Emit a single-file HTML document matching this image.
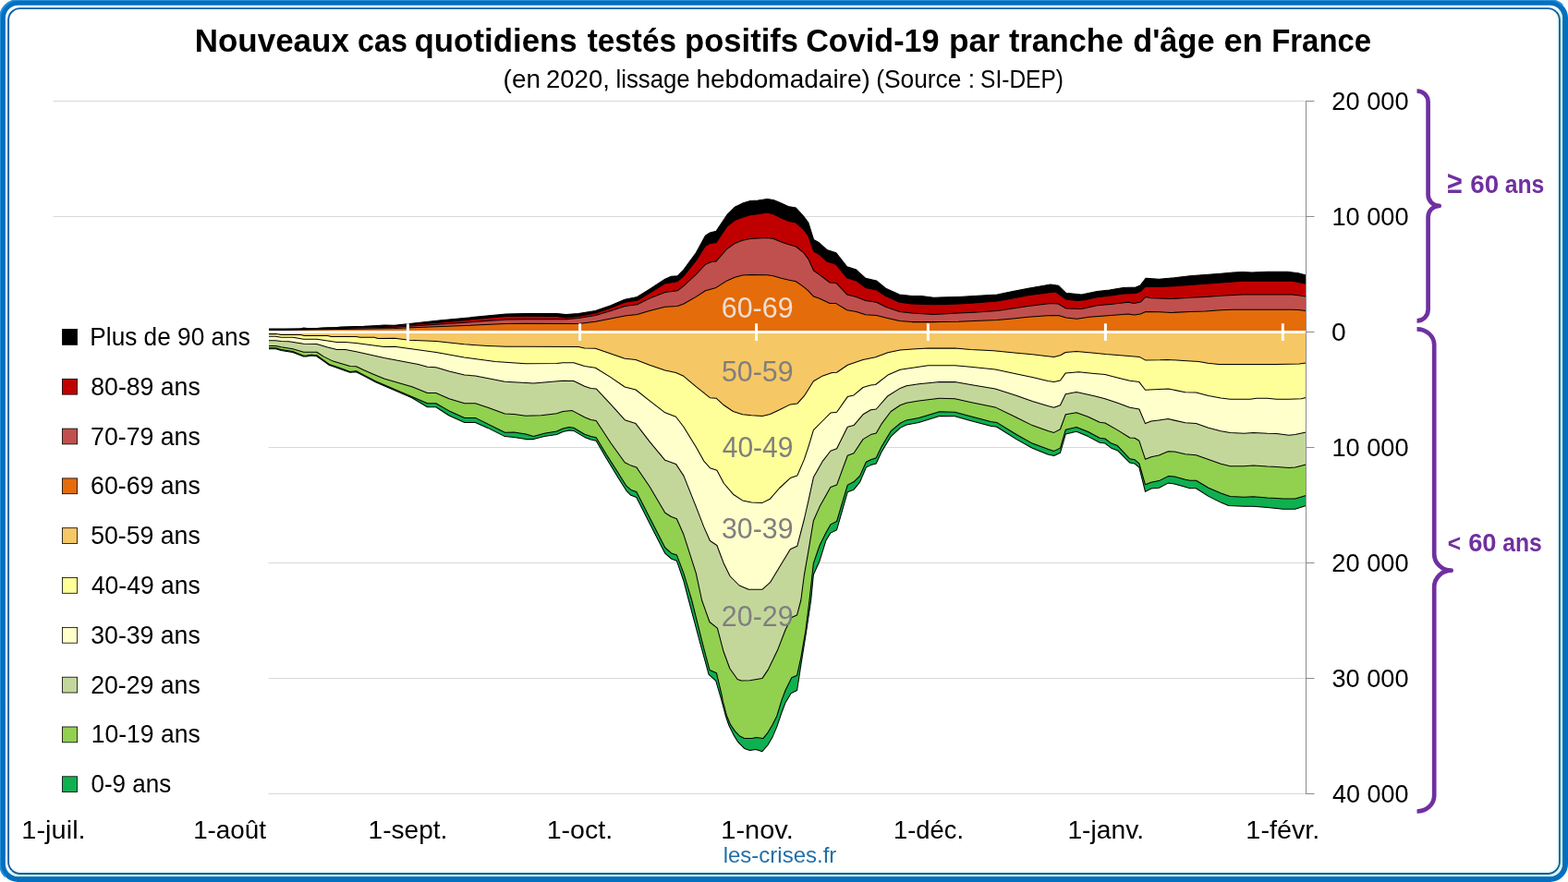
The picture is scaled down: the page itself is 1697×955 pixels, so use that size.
<!DOCTYPE html>
<html lang="fr"><head><meta charset="utf-8">
<title>Nouveaux cas quotidiens testés positifs Covid-19 par tranche d'âge en France</title>
<style>
html,body{margin:0;padding:0;background:#fff;}
body{width:1697px;height:955px;overflow:hidden;}
svg{display:block;}
text{font-family:"Liberation Sans", sans-serif;}
.area{stroke:#000;stroke-width:1.05;stroke-linejoin:round;}
</style></head><body>
<svg width="1697" height="955" viewBox="0 0 1697 955">
<rect x="0" y="0" width="1697" height="955" fill="#fff"/>
<defs>
<clipPath id="cbr"><path d="M1697 0 L1697 955 L0 955 L16 939 L1681 16 Z"/></clipPath>
<clipPath id="ctl"><path d="M0 0 L1697 0 L1681 16 L16 939 L0 955 Z"/></clipPath>
</defs>
<path d="M19.50 0.00 H1677.50 A19.50 19.50 0 0 1 1697.00 19.50 V935.50 A19.50 19.50 0 0 1 1677.50 955.00 H19.50 A19.50 19.50 0 0 1 0.00 935.50 V19.50 A19.50 19.50 0 0 1 19.50 0.00 Z M19.56 5.86 H1677.44 A13.70 13.70 0 0 1 1691.14 19.56 V935.44 A13.70 13.70 0 0 1 1677.44 949.14 H19.56 A13.70 13.70 0 0 1 5.86 935.44 V19.56 A13.70 13.70 0 0 1 19.56 5.86 Z" fill="#0070C0" fill-rule="evenodd"/>
<path d="M19.50 0.00 H1677.50 A19.50 19.50 0 0 1 1697.00 19.50 V935.50 A19.50 19.50 0 0 1 1677.50 955.00 H19.50 A19.50 19.50 0 0 1 0.00 935.50 V19.50 A19.50 19.50 0 0 1 19.50 0.00 Z" fill="none" stroke="#2A8FDA" stroke-width="2" clip-path="url(#ctl)"/>
<path d="M20.00 7.00 H1677.05 A13.00 13.00 0 0 1 1690.05 20.00 V934.95 A13.00 13.00 0 0 1 1677.05 947.95 H20.00 A13.00 13.00 0 0 1 7.00 934.95 V20.00 A13.00 13.00 0 0 1 20.00 7.00 Z" fill="none" stroke="#CDFDFF" stroke-width="2.4" clip-path="url(#cbr)"/>
<path d="M19.50 5.10 H1677.50 A14.40 14.40 0 0 1 1691.90 19.50 V935.50 A14.40 14.40 0 0 1 1677.50 949.90 H19.50 A14.40 14.40 0 0 1 5.10 935.50 V19.50 A14.40 14.40 0 0 1 19.50 5.10 Z" fill="none" stroke="#1E6AA8" stroke-width="1.5" clip-path="url(#cbr)"/>
<path d="M21.70 11.20 H1675.30 A10.50 10.50 0 0 1 1685.80 21.70 V933.40 A10.50 10.50 0 0 1 1675.30 943.90 H21.70 A10.50 10.50 0 0 1 11.20 933.40 V21.70 A10.50 10.50 0 0 1 21.70 11.20 Z" fill="none" stroke="#E4FDFF" stroke-width="2.2" clip-path="url(#cbr)"/>
<path d="M21.70 9.10 H1675.30 A12.60 12.60 0 0 1 1687.90 21.70 V933.35 A12.60 12.60 0 0 1 1675.30 945.95 H21.70 A12.60 12.60 0 0 1 9.10 933.35 V21.70 A12.60 12.60 0 0 1 21.70 9.10 Z" fill="none" stroke="#0A60A8" stroke-width="1.9" clip-path="url(#ctl)"/>
<path d="M21.70 9.10 H1675.30 A12.60 12.60 0 0 1 1687.90 21.70 V933.35 A12.60 12.60 0 0 1 1675.30 945.95 H21.70 A12.60 12.60 0 0 1 9.10 933.35 V21.70 A12.60 12.60 0 0 1 21.70 9.10 Z" fill="none" stroke="#215D8E" stroke-width="1.9" clip-path="url(#cbr)"/>
<line x1="57.5" y1="109.5" x2="1413.5" y2="109.5" stroke="#D9D9D9" stroke-width="1"/>
<line x1="57.5" y1="234.5" x2="1413.5" y2="234.5" stroke="#D9D9D9" stroke-width="1"/>
<line x1="57.5" y1="484.5" x2="1413.5" y2="484.5" stroke="#D9D9D9" stroke-width="1"/>
<line x1="57.5" y1="609.5" x2="1413.5" y2="609.5" stroke="#D9D9D9" stroke-width="1"/>
<line x1="57.5" y1="734.5" x2="1413.5" y2="734.5" stroke="#D9D9D9" stroke-width="1"/>
<line x1="57.5" y1="859.5" x2="1413.5" y2="859.5" stroke="#D9D9D9" stroke-width="1"/>
<rect x="50" y="338" width="240.5" height="535" fill="#fff"/>
<g stroke="none">
<path d="M291.0 359.5L291.0 356.1L325.2 355.9L328.6 355.1L332.8 355.4L343.6 355.5L348.7 354.9L364.6 354.4L368.8 354.1L393.9 353.3L409.0 352.4L415.7 352.0L427.0 352.2L477.3 346.8L547.6 340.1L569.0 339.5L602.5 339.5L612.6 340.4L626.0 339.5L644.4 336.5L661.1 330.7L676.2 324.3L686.3 322.3L689.6 321.4L703.0 313.1L719.8 302.2L726.5 299.2L733.2 298.8L739.9 292.1L753.3 273.7L763.4 255.3L768.4 251.9L775.1 250.2L780.1 242.7L786.8 232.7L795.2 224.3L803.6 220.1L812.0 217.6L820.3 217.1L830.4 215.4L837.1 216.4L845.5 220.1L853.0 223.4L861.4 225.1L869.8 234.3L874.8 241.0L880.6 259.4L886.5 262.8L894.9 270.4L904.9 273.7L916.7 288.8L926.7 292.1L936.8 301.3L948.5 303.9L958.6 312.2L973.6 318.9L987.0 320.6L997.1 320.6L1010.5 322.3L1037.3 321.4L1054.1 320.6L1079.2 318.9L1096.0 315.6L1112.7 312.2L1137.0 308.0L1145.4 309.2L1153.8 317.3L1170.5 318.9L1187.3 315.6L1200.7 313.9L1215.8 311.4L1229.2 310.9L1234.2 308.9L1240.0 301.3L1254.3 302.2L1271.0 300.8L1287.8 298.8L1304.5 297.5L1321.3 296.3L1334.7 295.1L1344.8 294.6L1354.8 295.0L1371.6 294.3L1393.3 294.3L1405.1 295.8L1413.5 298.0L1413.5 359.5 Z" fill="#000000"/>
<path d="M291.0 359.5L291.0 356.9L427.0 353.1L477.3 348.9L547.6 342.4L569.0 342.2L602.5 342.4L612.6 344.1L626.0 342.4L644.4 339.0L661.1 333.2L676.2 327.3L689.6 325.3L703.0 317.3L719.8 306.9L733.2 304.7L739.9 298.8L753.3 282.1L763.4 266.2L768.4 263.6L775.1 262.8L780.1 255.3L786.8 245.2L795.2 238.5L803.6 235.2L812.0 232.7L820.3 231.8L830.4 230.1L837.1 231.8L845.5 236.0L853.0 239.3L861.4 241.0L869.8 248.6L874.8 255.3L880.6 272.0L886.5 275.4L894.9 282.9L904.9 286.3L916.7 300.8L926.7 303.9L936.8 311.4L948.5 313.9L958.6 320.6L973.6 327.3L987.0 329.0L1010.5 329.8L1037.3 329.0L1054.1 328.1L1079.2 326.0L1096.0 323.1L1112.7 319.8L1137.0 316.4L1142.0 315.9L1145.4 318.1L1153.8 324.0L1165.5 325.6L1173.9 324.8L1187.3 321.8L1200.7 320.3L1215.8 318.1L1229.2 317.6L1234.2 315.6L1240.0 310.2L1254.3 310.6L1271.0 309.7L1287.8 308.6L1304.5 307.2L1321.3 305.9L1334.7 305.0L1344.8 304.2L1371.6 304.2L1398.4 304.2L1405.1 305.5L1413.5 307.2L1413.5 359.5 Z" fill="#C00000"/>
<path d="M291.0 359.5L291.0 357.3L427.0 354.3L477.3 351.0L547.6 346.0L569.0 345.8L612.6 345.7L626.0 344.4L644.4 341.6L661.1 336.5L676.2 331.5L689.6 329.8L703.0 323.1L719.8 316.4L733.2 314.8L739.9 309.7L753.3 297.1L763.4 286.3L770.1 283.4L775.1 282.9L780.1 277.1L786.8 269.5L795.2 263.6L803.6 260.3L812.0 258.6L820.3 258.1L830.4 257.4L837.1 258.6L845.5 262.0L853.0 264.5L861.4 267.0L869.8 273.7L874.8 280.4L880.6 293.0L886.5 297.1L898.2 306.0L904.9 306.4L916.7 318.9L926.7 321.4L936.8 325.6L948.5 327.3L958.6 332.3L973.6 337.4L987.0 339.0L1010.5 340.4L1037.3 339.0L1054.1 338.2L1079.2 336.5L1096.0 334.0L1112.7 331.5L1137.0 328.6L1145.4 329.0L1153.8 334.0L1170.5 334.4L1187.3 330.7L1204.0 329.3L1220.8 327.3L1227.5 328.5L1234.2 327.0L1240.0 321.4L1245.9 322.8L1267.7 323.5L1287.8 322.3L1304.5 321.4L1321.3 320.3L1334.7 319.4L1344.8 318.9L1371.6 318.9L1398.4 318.9L1405.1 319.8L1413.5 320.9L1413.5 359.5 Z" fill="#C0504D"/>
<path d="M291.0 359.5L291.0 357.7L427.0 355.6L477.3 353.5L547.6 350.6L569.0 350.2L626.0 350.4L644.4 348.3L661.1 344.9L676.2 342.1L689.6 340.4L703.0 336.5L719.8 332.3L733.2 331.5L739.9 329.0L753.3 321.4L763.4 314.8L775.1 311.4L786.8 303.9L795.2 300.2L803.6 298.0L812.0 297.5L830.4 297.7L837.1 298.8L845.5 301.3L853.0 303.0L861.4 304.7L869.8 310.6L874.8 314.8L880.6 321.1L886.5 323.1L898.2 328.5L904.9 328.6L916.7 335.7L926.7 337.4L936.8 340.7L948.5 341.6L958.6 344.1L973.6 347.4L987.0 348.6L1010.5 348.6L1037.3 348.3L1054.1 347.4L1079.2 346.6L1096.0 344.9L1112.7 343.2L1137.0 341.6L1145.4 341.6L1153.8 344.1L1165.5 345.2L1178.9 343.2L1195.6 342.1L1220.8 339.9L1227.5 341.1L1234.2 339.9L1240.0 337.4L1254.3 337.7L1267.7 338.5L1287.8 337.4L1304.5 336.9L1321.3 335.7L1334.7 335.2L1371.6 335.2L1398.4 335.2L1405.1 335.4L1413.5 336.5L1413.5 359.5 Z" fill="#E46C0A"/>
<path d="M291.0 359.5L291.0 377.7L298.4 377.7L304.3 379.4L316.8 381.5L328.6 386.1L331.9 385.9L336.9 385.1L342.8 385.7L350.4 391.1L356.2 395.3L364.6 398.2L373.0 401.2L378.8 403.3L385.5 402.7L393.9 407.1L406.5 413.8L445.9 430.7L462.6 440.8L471.8 440.8L486.1 450.0L502.8 457.5L514.5 457.5L528.0 463.4L546.4 472.6L556.4 473.4L569.0 475.6L577.4 475.6L589.1 472.6L602.5 470.6L609.2 467.6L615.9 465.9L620.9 466.4L632.7 473.4L639.4 475.9L645.2 477.3L656.1 496.0L669.5 517.9L677.9 531.3L682.9 536.3L688.8 538.5L703.0 566.5L719.8 599.2L726.5 605.0L732.4 607.2L739.9 629.0L745.4 650.0L757.9 696.9L767.1 730.4L774.7 737.1L780.5 756.8L785.5 775.5L788.9 785.5L793.9 795.6L798.9 803.7L805.6 810.4L811.5 812.5L818.2 811.6L824.9 813.7L830.8 807.0L835.8 798.6L840.8 786.9L845.9 771.8L850.0 760.9L855.9 750.9L862.6 747.5L866.8 720.4L872.7 683.5L877.7 650.0L880.4 622.3L887.1 607.2L893.8 585.5L898.9 577.1L905.6 573.7L917.3 532.7L924.0 530.2L930.7 521.8L937.4 506.1L942.4 503.6L948.3 501.9L954.1 489.3L964.2 472.6L974.2 463.4L981.0 460.0L994.4 457.5L1016.8 450.5L1033.5 450.8L1050.3 455.5L1072.0 461.2L1078.8 462.2L1100.5 475.9L1117.3 485.2L1134.0 491.9L1140.7 493.5L1147.5 490.2L1153.3 470.1L1165.0 467.2L1177.6 472.6L1190.2 479.3L1196.0 480.1L1202.7 485.2L1209.4 487.7L1222.8 501.1L1227.9 501.9L1232.9 506.1L1239.5 532.4L1245.9 529.0L1254.3 528.2L1264.3 523.1L1271.0 524.0L1282.8 527.3L1287.8 528.7L1294.5 528.7L1307.9 537.4L1321.3 544.1L1329.7 547.5L1346.4 548.3L1356.5 548.3L1371.6 549.5L1381.6 550.5L1388.3 551.3L1401.7 551.3L1413.5 547.5L1413.5 359.5 Z" fill="#0FB050"/>
<path d="M291.0 359.5L291.0 376.8L298.4 376.8L304.3 378.5L316.8 380.6L328.6 385.2L331.9 385.0L336.9 384.2L342.8 384.8L350.4 390.2L356.2 394.4L364.6 397.3L373.0 400.3L378.8 402.4L385.5 401.8L393.9 406.1L406.5 412.8L462.6 436.8L471.8 436.8L486.1 444.9L502.8 452.4L514.5 452.4L546.4 468.3L556.4 468.0L569.0 470.0L577.4 472.5L589.1 469.2L602.5 467.0L609.2 464.1L615.9 462.5L620.9 463.3L632.7 470.3L639.4 472.5L645.2 473.7L656.1 491.8L669.5 512.8L677.9 526.2L682.9 530.4L688.8 532.6L703.0 560.3L719.8 593.0L726.5 598.9L732.4 600.9L739.9 620.6L748.7 650.0L761.3 700.3L768.0 725.4L775.5 728.8L781.4 753.9L782.2 758.7L786.4 774.6L790.6 784.6L795.6 791.9L800.6 797.0L805.6 799.5L814.0 799.6L818.2 798.6L825.8 799.6L830.8 793.6L835.8 785.2L840.8 775.2L845.9 758.4L850.0 747.5L856.8 733.8L862.6 731.3L866.8 712.0L871.9 682.9L876.0 650.0L880.4 609.8L887.1 590.5L893.8 577.1L898.9 567.9L905.6 564.5L917.3 525.1L924.0 521.8L930.7 515.1L937.4 500.2L942.4 497.7L948.3 495.7L954.1 483.4L964.2 466.7L974.2 458.3L981.0 454.9L994.4 452.4L1016.8 445.7L1033.5 446.2L1050.3 450.7L1072.0 456.6L1078.8 457.4L1100.5 470.8L1117.3 480.1L1134.0 486.3L1140.7 488.4L1147.5 485.1L1153.3 465.3L1165.0 462.5L1177.6 467.5L1190.2 474.2L1196.0 475.0L1202.7 480.1L1209.4 482.6L1222.8 496.8L1227.9 497.7L1232.9 501.8L1239.5 524.8L1245.9 522.3L1254.3 520.6L1264.3 515.6L1271.0 516.1L1282.8 519.3L1287.8 520.3L1294.5 520.3L1307.9 528.2L1321.3 534.0L1331.4 537.4L1346.4 538.2L1356.5 537.7L1371.6 539.1L1381.6 539.4L1388.3 539.9L1401.7 539.9L1413.5 536.5L1413.5 359.5 Z" fill="#92D050"/>
<path d="M291.0 359.5L291.0 374.4L298.4 374.4L304.3 375.8L316.8 377.7L328.6 381.2L342.8 381.2L350.4 386.1L360.4 391.1L368.8 393.6L378.8 396.6L385.5 396.8L393.9 400.8L406.5 406.2L415.7 410.0L445.9 418.7L462.6 425.4L471.8 425.4L486.1 431.7L502.8 436.8L514.5 436.8L528.0 441.3L546.4 448.0L556.4 448.5L569.0 450.2L585.8 449.7L602.5 447.7L609.2 445.5L619.3 444.6L632.7 451.8L639.4 454.4L645.2 455.5L661.1 479.8L676.2 500.8L682.9 504.1L688.8 505.9L703.0 526.8L719.8 555.3L726.5 559.5L732.4 561.7L739.9 578.8L753.3 620.6L759.6 650.0L768.0 673.5L776.4 680.2L783.0 705.3L789.8 723.7L798.1 735.5L802.3 737.1L811.5 736.8L824.9 734.6L831.6 724.6L841.7 703.6L850.1 681.8L856.8 668.4L862.6 665.9L866.8 650.0L870.4 622.3L875.4 593.8L880.4 563.7L887.1 548.6L898.9 527.6L905.6 525.1L917.3 493.2L924.0 490.7L934.0 475.6L942.4 470.6L948.3 468.9L954.1 458.9L964.2 445.5L974.2 438.8L981.0 436.3L994.4 434.1L1016.8 431.2L1033.5 431.7L1050.3 435.4L1077.1 440.9L1100.5 452.2L1117.3 460.6L1134.0 466.4L1140.7 468.4L1147.5 464.8L1153.3 448.8L1165.0 446.8L1177.6 451.3L1190.2 457.2L1196.0 458.0L1209.4 465.6L1222.8 474.0L1227.9 474.3L1232.9 477.3L1239.5 497.2L1245.9 494.7L1254.3 493.0L1264.3 488.8L1271.0 489.1L1282.8 491.8L1294.5 492.7L1307.9 497.5L1321.3 502.2L1331.4 504.7L1346.4 504.7L1356.5 503.9L1371.6 505.1L1381.6 505.6L1395.0 506.4L1401.7 506.1L1413.5 503.0L1413.5 359.5 Z" fill="#C4D79B"/>
<path d="M291.0 359.5L291.0 368.7L298.4 368.7L304.3 369.5L312.6 369.8L328.6 372.3L342.8 372.4L354.5 376.1L364.6 378.4L373.8 378.6L385.5 380.7L402.3 384.4L415.7 387.4L452.6 394.4L462.6 397.2L471.8 397.7L486.1 401.9L502.8 406.1L514.5 406.9L546.4 413.3L569.0 414.5L577.4 415.0L609.2 412.3L620.9 412.5L632.7 418.3L639.4 420.4L645.2 420.9L661.1 437.9L676.2 454.7L688.0 458.6L703.0 478.1L719.8 498.3L731.5 502.4L739.9 515.1L753.3 548.6L761.7 570.4L768.4 585.5L775.9 590.5L783.5 610.6L790.2 624.0L800.2 634.0L810.3 638.2L825.1 638.2L833.5 630.7L843.6 613.9L855.3 594.7L862.8 591.3L870.4 562.0L875.4 540.2L880.4 516.8L890.5 499.1L898.9 488.2L905.6 485.7L917.3 462.2L924.0 460.6L934.0 448.8L942.4 443.8L948.3 443.0L960.9 428.7L974.2 420.4L981.0 417.8L994.4 415.8L1016.8 413.6L1033.5 413.6L1050.3 416.5L1077.1 420.9L1100.5 428.4L1117.3 434.6L1134.0 439.6L1140.7 441.3L1147.5 438.8L1153.3 426.7L1165.0 424.5L1184.3 428.7L1196.0 431.7L1209.4 436.3L1222.8 441.3L1232.9 443.0L1239.5 458.6L1245.9 456.1L1254.3 455.0L1264.3 453.6L1282.8 457.8L1294.5 458.6L1307.9 463.3L1321.3 466.7L1331.4 468.4L1346.4 469.2L1356.5 468.4L1371.6 469.2L1381.6 469.5L1395.0 471.2L1401.7 470.4L1413.5 467.9L1413.5 359.5 Z" fill="#FFFFCC"/>
<path d="M291.0 359.5L291.0 364.3L298.4 364.3L304.3 365.3L316.8 365.3L328.6 367.2L342.8 367.2L354.5 368.9L364.6 370.4L373.8 370.6L385.5 371.6L402.3 373.7L415.7 375.6L427.0 375.3L472.2 381.6L502.4 387.0L535.9 391.6L569.0 393.7L602.5 393.5L609.2 392.7L620.9 392.7L632.7 396.4L644.4 398.2L661.1 408.6L676.2 419.0L688.0 422.0L703.0 433.8L719.8 446.8L731.5 451.3L739.9 462.2L753.3 484.0L761.7 499.1L768.4 506.7L775.9 509.2L783.5 523.5L793.5 535.2L803.6 541.9L813.4 543.9L825.1 544.4L833.5 540.2L843.6 528.5L855.3 517.6L862.8 515.1L870.4 497.4L875.4 482.3L880.4 465.6L890.5 455.5L898.9 447.1L905.6 446.3L917.3 429.6L924.0 427.9L934.0 419.5L942.4 417.0L947.5 416.5L960.9 406.1L974.2 400.2L987.7 398.2L1004.4 395.7L1016.8 395.7L1033.5 395.7L1050.3 397.2L1077.1 399.9L1100.5 404.9L1117.3 408.6L1134.0 412.5L1140.7 413.6L1147.5 412.0L1153.3 403.9L1167.5 402.8L1184.3 404.4L1196.0 405.6L1209.4 408.9L1222.8 412.3L1232.9 413.6L1239.5 422.3L1254.3 421.4L1264.3 420.9L1282.8 424.8L1294.5 425.1L1307.9 428.5L1321.3 431.0L1331.4 432.3L1353.1 432.2L1359.8 431.3L1371.6 431.3L1381.6 432.2L1395.0 432.3L1408.4 431.8L1413.5 430.5L1413.5 359.5 Z" fill="#FFFF99"/>
<path d="M291.0 359.5L291.0 361.6L298.4 361.6L304.3 362.5L325.2 362.5L329.4 363.5L354.5 363.5L358.7 364.5L385.5 364.5L389.7 365.3L404.8 365.3L409.0 366.4L427.0 366.2L442.9 368.2L472.2 369.4L502.4 372.8L527.5 374.4L547.6 375.3L569.0 375.3L626.0 375.4L632.7 377.1L644.4 377.3L661.1 383.1L676.2 388.2L688.0 389.4L703.0 395.2L719.8 401.1L731.5 403.6L739.9 407.3L753.3 418.7L768.4 430.7L775.1 431.2L783.5 438.8L793.5 445.5L803.6 448.8L813.4 449.7L825.1 450.5L833.5 448.5L843.6 443.8L855.3 437.9L862.8 437.1L870.4 428.7L880.4 412.8L890.5 406.9L900.5 403.6L905.6 403.2L917.3 395.2L934.0 389.4L947.5 386.8L960.9 381.8L974.2 379.0L987.7 378.1L1004.4 377.1L1033.5 377.1L1050.3 378.5L1075.4 379.8L1100.5 382.3L1117.3 383.8L1134.0 385.7L1140.7 386.5L1147.5 384.8L1153.3 381.5L1165.0 380.6L1184.3 382.3L1196.8 383.6L1221.9 385.6L1233.6 386.6L1239.5 389.9L1255.4 389.8L1263.8 389.4L1280.5 390.6L1297.3 391.6L1307.3 393.3L1319.1 394.4L1347.5 394.4L1381.1 394.4L1406.2 394.1L1413.5 393.1L1413.5 359.5 Z" fill="#F6C765"/>
</g>
<g class="area" fill="none">
<path d="M291.0 356.1L325.2 355.9L328.6 355.1L332.8 355.4L343.6 355.5L348.7 354.9L364.6 354.4L368.8 354.1L393.9 353.3L409.0 352.4L415.7 352.0L427.0 352.2L477.3 346.8L547.6 340.1L569.0 339.5L602.5 339.5L612.6 340.4L626.0 339.5L644.4 336.5L661.1 330.7L676.2 324.3L686.3 322.3L689.6 321.4L703.0 313.1L719.8 302.2L726.5 299.2L733.2 298.8L739.9 292.1L753.3 273.7L763.4 255.3L768.4 251.9L775.1 250.2L780.1 242.7L786.8 232.7L795.2 224.3L803.6 220.1L812.0 217.6L820.3 217.1L830.4 215.4L837.1 216.4L845.5 220.1L853.0 223.4L861.4 225.1L869.8 234.3L874.8 241.0L880.6 259.4L886.5 262.8L894.9 270.4L904.9 273.7L916.7 288.8L926.7 292.1L936.8 301.3L948.5 303.9L958.6 312.2L973.6 318.9L987.0 320.6L997.1 320.6L1010.5 322.3L1037.3 321.4L1054.1 320.6L1079.2 318.9L1096.0 315.6L1112.7 312.2L1137.0 308.0L1145.4 309.2L1153.8 317.3L1170.5 318.9L1187.3 315.6L1200.7 313.9L1215.8 311.4L1229.2 310.9L1234.2 308.9L1240.0 301.3L1254.3 302.2L1271.0 300.8L1287.8 298.8L1304.5 297.5L1321.3 296.3L1334.7 295.1L1344.8 294.6L1354.8 295.0L1371.6 294.3L1393.3 294.3L1405.1 295.8L1413.5 298.0"/>
<path d="M291.0 356.9L427.0 353.1L477.3 348.9L547.6 342.4L569.0 342.2L602.5 342.4L612.6 344.1L626.0 342.4L644.4 339.0L661.1 333.2L676.2 327.3L689.6 325.3L703.0 317.3L719.8 306.9L733.2 304.7L739.9 298.8L753.3 282.1L763.4 266.2L768.4 263.6L775.1 262.8L780.1 255.3L786.8 245.2L795.2 238.5L803.6 235.2L812.0 232.7L820.3 231.8L830.4 230.1L837.1 231.8L845.5 236.0L853.0 239.3L861.4 241.0L869.8 248.6L874.8 255.3L880.6 272.0L886.5 275.4L894.9 282.9L904.9 286.3L916.7 300.8L926.7 303.9L936.8 311.4L948.5 313.9L958.6 320.6L973.6 327.3L987.0 329.0L1010.5 329.8L1037.3 329.0L1054.1 328.1L1079.2 326.0L1096.0 323.1L1112.7 319.8L1137.0 316.4L1142.0 315.9L1145.4 318.1L1153.8 324.0L1165.5 325.6L1173.9 324.8L1187.3 321.8L1200.7 320.3L1215.8 318.1L1229.2 317.6L1234.2 315.6L1240.0 310.2L1254.3 310.6L1271.0 309.7L1287.8 308.6L1304.5 307.2L1321.3 305.9L1334.7 305.0L1344.8 304.2L1371.6 304.2L1398.4 304.2L1405.1 305.5L1413.5 307.2"/>
<path d="M291.0 357.3L427.0 354.3L477.3 351.0L547.6 346.0L569.0 345.8L612.6 345.7L626.0 344.4L644.4 341.6L661.1 336.5L676.2 331.5L689.6 329.8L703.0 323.1L719.8 316.4L733.2 314.8L739.9 309.7L753.3 297.1L763.4 286.3L770.1 283.4L775.1 282.9L780.1 277.1L786.8 269.5L795.2 263.6L803.6 260.3L812.0 258.6L820.3 258.1L830.4 257.4L837.1 258.6L845.5 262.0L853.0 264.5L861.4 267.0L869.8 273.7L874.8 280.4L880.6 293.0L886.5 297.1L898.2 306.0L904.9 306.4L916.7 318.9L926.7 321.4L936.8 325.6L948.5 327.3L958.6 332.3L973.6 337.4L987.0 339.0L1010.5 340.4L1037.3 339.0L1054.1 338.2L1079.2 336.5L1096.0 334.0L1112.7 331.5L1137.0 328.6L1145.4 329.0L1153.8 334.0L1170.5 334.4L1187.3 330.7L1204.0 329.3L1220.8 327.3L1227.5 328.5L1234.2 327.0L1240.0 321.4L1245.9 322.8L1267.7 323.5L1287.8 322.3L1304.5 321.4L1321.3 320.3L1334.7 319.4L1344.8 318.9L1371.6 318.9L1398.4 318.9L1405.1 319.8L1413.5 320.9"/>
<path d="M291.0 357.7L427.0 355.6L477.3 353.5L547.6 350.6L569.0 350.2L626.0 350.4L644.4 348.3L661.1 344.9L676.2 342.1L689.6 340.4L703.0 336.5L719.8 332.3L733.2 331.5L739.9 329.0L753.3 321.4L763.4 314.8L775.1 311.4L786.8 303.9L795.2 300.2L803.6 298.0L812.0 297.5L830.4 297.7L837.1 298.8L845.5 301.3L853.0 303.0L861.4 304.7L869.8 310.6L874.8 314.8L880.6 321.1L886.5 323.1L898.2 328.5L904.9 328.6L916.7 335.7L926.7 337.4L936.8 340.7L948.5 341.6L958.6 344.1L973.6 347.4L987.0 348.6L1010.5 348.6L1037.3 348.3L1054.1 347.4L1079.2 346.6L1096.0 344.9L1112.7 343.2L1137.0 341.6L1145.4 341.6L1153.8 344.1L1165.5 345.2L1178.9 343.2L1195.6 342.1L1220.8 339.9L1227.5 341.1L1234.2 339.9L1240.0 337.4L1254.3 337.7L1267.7 338.5L1287.8 337.4L1304.5 336.9L1321.3 335.7L1334.7 335.2L1371.6 335.2L1398.4 335.2L1405.1 335.4L1413.5 336.5"/>
<path d="M291.0 377.7L298.4 377.7L304.3 379.4L316.8 381.5L328.6 386.1L331.9 385.9L336.9 385.1L342.8 385.7L350.4 391.1L356.2 395.3L364.6 398.2L373.0 401.2L378.8 403.3L385.5 402.7L393.9 407.1L406.5 413.8L445.9 430.7L462.6 440.8L471.8 440.8L486.1 450.0L502.8 457.5L514.5 457.5L528.0 463.4L546.4 472.6L556.4 473.4L569.0 475.6L577.4 475.6L589.1 472.6L602.5 470.6L609.2 467.6L615.9 465.9L620.9 466.4L632.7 473.4L639.4 475.9L645.2 477.3L656.1 496.0L669.5 517.9L677.9 531.3L682.9 536.3L688.8 538.5L703.0 566.5L719.8 599.2L726.5 605.0L732.4 607.2L739.9 629.0L745.4 650.0L757.9 696.9L767.1 730.4L774.7 737.1L780.5 756.8L785.5 775.5L788.9 785.5L793.9 795.6L798.9 803.7L805.6 810.4L811.5 812.5L818.2 811.6L824.9 813.7L830.8 807.0L835.8 798.6L840.8 786.9L845.9 771.8L850.0 760.9L855.9 750.9L862.6 747.5L866.8 720.4L872.7 683.5L877.7 650.0L880.4 622.3L887.1 607.2L893.8 585.5L898.9 577.1L905.6 573.7L917.3 532.7L924.0 530.2L930.7 521.8L937.4 506.1L942.4 503.6L948.3 501.9L954.1 489.3L964.2 472.6L974.2 463.4L981.0 460.0L994.4 457.5L1016.8 450.5L1033.5 450.8L1050.3 455.5L1072.0 461.2L1078.8 462.2L1100.5 475.9L1117.3 485.2L1134.0 491.9L1140.7 493.5L1147.5 490.2L1153.3 470.1L1165.0 467.2L1177.6 472.6L1190.2 479.3L1196.0 480.1L1202.7 485.2L1209.4 487.7L1222.8 501.1L1227.9 501.9L1232.9 506.1L1239.5 532.4L1245.9 529.0L1254.3 528.2L1264.3 523.1L1271.0 524.0L1282.8 527.3L1287.8 528.7L1294.5 528.7L1307.9 537.4L1321.3 544.1L1329.7 547.5L1346.4 548.3L1356.5 548.3L1371.6 549.5L1381.6 550.5L1388.3 551.3L1401.7 551.3L1413.5 547.5"/>
<path d="M291.0 376.8L298.4 376.8L304.3 378.5L316.8 380.6L328.6 385.2L331.9 385.0L336.9 384.2L342.8 384.8L350.4 390.2L356.2 394.4L364.6 397.3L373.0 400.3L378.8 402.4L385.5 401.8L393.9 406.1L406.5 412.8L462.6 436.8L471.8 436.8L486.1 444.9L502.8 452.4L514.5 452.4L546.4 468.3L556.4 468.0L569.0 470.0L577.4 472.5L589.1 469.2L602.5 467.0L609.2 464.1L615.9 462.5L620.9 463.3L632.7 470.3L639.4 472.5L645.2 473.7L656.1 491.8L669.5 512.8L677.9 526.2L682.9 530.4L688.8 532.6L703.0 560.3L719.8 593.0L726.5 598.9L732.4 600.9L739.9 620.6L748.7 650.0L761.3 700.3L768.0 725.4L775.5 728.8L781.4 753.9L782.2 758.7L786.4 774.6L790.6 784.6L795.6 791.9L800.6 797.0L805.6 799.5L814.0 799.6L818.2 798.6L825.8 799.6L830.8 793.6L835.8 785.2L840.8 775.2L845.9 758.4L850.0 747.5L856.8 733.8L862.6 731.3L866.8 712.0L871.9 682.9L876.0 650.0L880.4 609.8L887.1 590.5L893.8 577.1L898.9 567.9L905.6 564.5L917.3 525.1L924.0 521.8L930.7 515.1L937.4 500.2L942.4 497.7L948.3 495.7L954.1 483.4L964.2 466.7L974.2 458.3L981.0 454.9L994.4 452.4L1016.8 445.7L1033.5 446.2L1050.3 450.7L1072.0 456.6L1078.8 457.4L1100.5 470.8L1117.3 480.1L1134.0 486.3L1140.7 488.4L1147.5 485.1L1153.3 465.3L1165.0 462.5L1177.6 467.5L1190.2 474.2L1196.0 475.0L1202.7 480.1L1209.4 482.6L1222.8 496.8L1227.9 497.7L1232.9 501.8L1239.5 524.8L1245.9 522.3L1254.3 520.6L1264.3 515.6L1271.0 516.1L1282.8 519.3L1287.8 520.3L1294.5 520.3L1307.9 528.2L1321.3 534.0L1331.4 537.4L1346.4 538.2L1356.5 537.7L1371.6 539.1L1381.6 539.4L1388.3 539.9L1401.7 539.9L1413.5 536.5"/>
<path d="M291.0 374.4L298.4 374.4L304.3 375.8L316.8 377.7L328.6 381.2L342.8 381.2L350.4 386.1L360.4 391.1L368.8 393.6L378.8 396.6L385.5 396.8L393.9 400.8L406.5 406.2L415.7 410.0L445.9 418.7L462.6 425.4L471.8 425.4L486.1 431.7L502.8 436.8L514.5 436.8L528.0 441.3L546.4 448.0L556.4 448.5L569.0 450.2L585.8 449.7L602.5 447.7L609.2 445.5L619.3 444.6L632.7 451.8L639.4 454.4L645.2 455.5L661.1 479.8L676.2 500.8L682.9 504.1L688.8 505.9L703.0 526.8L719.8 555.3L726.5 559.5L732.4 561.7L739.9 578.8L753.3 620.6L759.6 650.0L768.0 673.5L776.4 680.2L783.0 705.3L789.8 723.7L798.1 735.5L802.3 737.1L811.5 736.8L824.9 734.6L831.6 724.6L841.7 703.6L850.1 681.8L856.8 668.4L862.6 665.9L866.8 650.0L870.4 622.3L875.4 593.8L880.4 563.7L887.1 548.6L898.9 527.6L905.6 525.1L917.3 493.2L924.0 490.7L934.0 475.6L942.4 470.6L948.3 468.9L954.1 458.9L964.2 445.5L974.2 438.8L981.0 436.3L994.4 434.1L1016.8 431.2L1033.5 431.7L1050.3 435.4L1077.1 440.9L1100.5 452.2L1117.3 460.6L1134.0 466.4L1140.7 468.4L1147.5 464.8L1153.3 448.8L1165.0 446.8L1177.6 451.3L1190.2 457.2L1196.0 458.0L1209.4 465.6L1222.8 474.0L1227.9 474.3L1232.9 477.3L1239.5 497.2L1245.9 494.7L1254.3 493.0L1264.3 488.8L1271.0 489.1L1282.8 491.8L1294.5 492.7L1307.9 497.5L1321.3 502.2L1331.4 504.7L1346.4 504.7L1356.5 503.9L1371.6 505.1L1381.6 505.6L1395.0 506.4L1401.7 506.1L1413.5 503.0"/>
<path d="M291.0 368.7L298.4 368.7L304.3 369.5L312.6 369.8L328.6 372.3L342.8 372.4L354.5 376.1L364.6 378.4L373.8 378.6L385.5 380.7L402.3 384.4L415.7 387.4L452.6 394.4L462.6 397.2L471.8 397.7L486.1 401.9L502.8 406.1L514.5 406.9L546.4 413.3L569.0 414.5L577.4 415.0L609.2 412.3L620.9 412.5L632.7 418.3L639.4 420.4L645.2 420.9L661.1 437.9L676.2 454.7L688.0 458.6L703.0 478.1L719.8 498.3L731.5 502.4L739.9 515.1L753.3 548.6L761.7 570.4L768.4 585.5L775.9 590.5L783.5 610.6L790.2 624.0L800.2 634.0L810.3 638.2L825.1 638.2L833.5 630.7L843.6 613.9L855.3 594.7L862.8 591.3L870.4 562.0L875.4 540.2L880.4 516.8L890.5 499.1L898.9 488.2L905.6 485.7L917.3 462.2L924.0 460.6L934.0 448.8L942.4 443.8L948.3 443.0L960.9 428.7L974.2 420.4L981.0 417.8L994.4 415.8L1016.8 413.6L1033.5 413.6L1050.3 416.5L1077.1 420.9L1100.5 428.4L1117.3 434.6L1134.0 439.6L1140.7 441.3L1147.5 438.8L1153.3 426.7L1165.0 424.5L1184.3 428.7L1196.0 431.7L1209.4 436.3L1222.8 441.3L1232.9 443.0L1239.5 458.6L1245.9 456.1L1254.3 455.0L1264.3 453.6L1282.8 457.8L1294.5 458.6L1307.9 463.3L1321.3 466.7L1331.4 468.4L1346.4 469.2L1356.5 468.4L1371.6 469.2L1381.6 469.5L1395.0 471.2L1401.7 470.4L1413.5 467.9"/>
<path d="M291.0 364.3L298.4 364.3L304.3 365.3L316.8 365.3L328.6 367.2L342.8 367.2L354.5 368.9L364.6 370.4L373.8 370.6L385.5 371.6L402.3 373.7L415.7 375.6L427.0 375.3L472.2 381.6L502.4 387.0L535.9 391.6L569.0 393.7L602.5 393.5L609.2 392.7L620.9 392.7L632.7 396.4L644.4 398.2L661.1 408.6L676.2 419.0L688.0 422.0L703.0 433.8L719.8 446.8L731.5 451.3L739.9 462.2L753.3 484.0L761.7 499.1L768.4 506.7L775.9 509.2L783.5 523.5L793.5 535.2L803.6 541.9L813.4 543.9L825.1 544.4L833.5 540.2L843.6 528.5L855.3 517.6L862.8 515.1L870.4 497.4L875.4 482.3L880.4 465.6L890.5 455.5L898.9 447.1L905.6 446.3L917.3 429.6L924.0 427.9L934.0 419.5L942.4 417.0L947.5 416.5L960.9 406.1L974.2 400.2L987.7 398.2L1004.4 395.7L1016.8 395.7L1033.5 395.7L1050.3 397.2L1077.1 399.9L1100.5 404.9L1117.3 408.6L1134.0 412.5L1140.7 413.6L1147.5 412.0L1153.3 403.9L1167.5 402.8L1184.3 404.4L1196.0 405.6L1209.4 408.9L1222.8 412.3L1232.9 413.6L1239.5 422.3L1254.3 421.4L1264.3 420.9L1282.8 424.8L1294.5 425.1L1307.9 428.5L1321.3 431.0L1331.4 432.3L1353.1 432.2L1359.8 431.3L1371.6 431.3L1381.6 432.2L1395.0 432.3L1408.4 431.8L1413.5 430.5"/>
<path d="M291.0 361.6L298.4 361.6L304.3 362.5L325.2 362.5L329.4 363.5L354.5 363.5L358.7 364.5L385.5 364.5L389.7 365.3L404.8 365.3L409.0 366.4L427.0 366.2L442.9 368.2L472.2 369.4L502.4 372.8L527.5 374.4L547.6 375.3L569.0 375.3L626.0 375.4L632.7 377.1L644.4 377.3L661.1 383.1L676.2 388.2L688.0 389.4L703.0 395.2L719.8 401.1L731.5 403.6L739.9 407.3L753.3 418.7L768.4 430.7L775.1 431.2L783.5 438.8L793.5 445.5L803.6 448.8L813.4 449.7L825.1 450.5L833.5 448.5L843.6 443.8L855.3 437.9L862.8 437.1L870.4 428.7L880.4 412.8L890.5 406.9L900.5 403.6L905.6 403.2L917.3 395.2L934.0 389.4L947.5 386.8L960.9 381.8L974.2 379.0L987.7 378.1L1004.4 377.1L1033.5 377.1L1050.3 378.5L1075.4 379.8L1100.5 382.3L1117.3 383.8L1134.0 385.7L1140.7 386.5L1147.5 384.8L1153.3 381.5L1165.0 380.6L1184.3 382.3L1196.8 383.6L1221.9 385.6L1233.6 386.6L1239.5 389.9L1255.4 389.8L1263.8 389.4L1280.5 390.6L1297.3 391.6L1307.3 393.3L1319.1 394.4L1347.5 394.4L1381.1 394.4L1406.2 394.1L1413.5 393.1"/>
</g>
<line x1="290.5" y1="359.5" x2="1413.5" y2="359.5" stroke="#fff" stroke-width="3"/>
<line x1="441.4" y1="350.3" x2="441.4" y2="369" stroke="#fff" stroke-width="3"/>
<line x1="627.6" y1="350.3" x2="627.6" y2="369" stroke="#fff" stroke-width="3"/>
<line x1="818.6" y1="350.3" x2="818.6" y2="369" stroke="#fff" stroke-width="3"/>
<line x1="1004.4" y1="350.3" x2="1004.4" y2="369" stroke="#fff" stroke-width="3"/>
<line x1="1196.4" y1="350.3" x2="1196.4" y2="369" stroke="#fff" stroke-width="3"/>
<line x1="1388.3" y1="350.3" x2="1388.3" y2="369" stroke="#fff" stroke-width="3"/>
<line x1="1413.5" y1="109" x2="1413.5" y2="860" stroke="#8C8C8C" stroke-width="1"/>
<line x1="1413.5" y1="109.5" x2="1422.5" y2="109.5" stroke="#8C8C8C" stroke-width="1"/>
<line x1="1413.5" y1="234.5" x2="1422.5" y2="234.5" stroke="#8C8C8C" stroke-width="1"/>
<line x1="1413.5" y1="359.5" x2="1422.5" y2="359.5" stroke="#8C8C8C" stroke-width="1"/>
<line x1="1413.5" y1="484.5" x2="1422.5" y2="484.5" stroke="#8C8C8C" stroke-width="1"/>
<line x1="1413.5" y1="609.5" x2="1422.5" y2="609.5" stroke="#8C8C8C" stroke-width="1"/>
<line x1="1413.5" y1="734.5" x2="1422.5" y2="734.5" stroke="#8C8C8C" stroke-width="1"/>
<line x1="1413.5" y1="859.5" x2="1422.5" y2="859.5" stroke="#8C8C8C" stroke-width="1"/>
<rect x="67.4" y="356.5" width="16.2" height="16.8" fill="#000000" stroke="#000" stroke-width="0.8"/>
<rect x="67.4" y="410.3" width="16.2" height="16.8" fill="#C00000" stroke="#000" stroke-width="0.8"/>
<rect x="67.4" y="464.1" width="16.2" height="16.8" fill="#C0504D" stroke="#000" stroke-width="0.8"/>
<rect x="67.4" y="517.9" width="16.2" height="16.8" fill="#E46C0A" stroke="#000" stroke-width="0.8"/>
<rect x="67.4" y="571.7" width="16.2" height="16.8" fill="#F6C765" stroke="#000" stroke-width="0.8"/>
<rect x="67.4" y="625.5" width="16.2" height="16.8" fill="#FFFF99" stroke="#000" stroke-width="0.8"/>
<rect x="67.4" y="679.4" width="16.2" height="16.8" fill="#FFFFCC" stroke="#000" stroke-width="0.8"/>
<rect x="67.4" y="733.2" width="16.2" height="16.8" fill="#C4D79B" stroke="#000" stroke-width="0.8"/>
<rect x="67.4" y="787.0" width="16.2" height="16.8" fill="#92D050" stroke="#000" stroke-width="0.8"/>
<rect x="67.4" y="840.8" width="16.2" height="16.8" fill="#0FB050" stroke="#000" stroke-width="0.8"/>
<g fill="none" stroke="#7030A0" stroke-width="4.7" stroke-linecap="butt" stroke-linejoin="round">
<path d="M1533.5 98.5 A12.1 11.7 0 0 1 1545.6 110.2 L1545.6 210.8 A12.1 12.1 0 0 0 1557.7 222.9 A12.1 12.1 0 0 0 1545.6 235 L1545.6 335.3 A12.1 12.1 0 0 1 1533.5 347.4"/>
<path d="M1533.5 356.4 A18.7 17 0 0 1 1552.2 373.4 L1552.2 599.7 A18.5 18 0 0 0 1570.7 617.7 A18.5 18 0 0 0 1552.2 635.7 L1552.2 861.5 A18.7 17 0 0 1 1533.5 878.5"/>
</g>
<text x="1441.32" y="119.10" font-size="28.5" fill="#000" textLength="83.27" lengthAdjust="spacingAndGlyphs">20 000</text>
<text x="1441.41" y="244.10" font-size="28.5" fill="#000" textLength="83.17" lengthAdjust="spacingAndGlyphs">10 000</text>
<text x="1441.05" y="369.10" font-size="28.5" fill="#000" textLength="15.72" lengthAdjust="spacingAndGlyphs">0</text>
<text x="1441.41" y="494.10" font-size="28.5" fill="#000" textLength="83.17" lengthAdjust="spacingAndGlyphs">10 000</text>
<text x="1441.32" y="619.10" font-size="28.5" fill="#000" textLength="83.27" lengthAdjust="spacingAndGlyphs">20 000</text>
<text x="1441.43" y="744.10" font-size="28.5" fill="#000" textLength="83.15" lengthAdjust="spacingAndGlyphs">30 000</text>
<text x="1442.08" y="869.10" font-size="28.5" fill="#000" textLength="82.50" lengthAdjust="spacingAndGlyphs">40 000</text>
<text x="23.26" y="908.20" font-size="27.4" fill="#000" textLength="69.43" lengthAdjust="spacingAndGlyphs">1-juil.</text>
<text x="209.16" y="908.20" font-size="27.4" fill="#000" textLength="78.82" lengthAdjust="spacingAndGlyphs">1-août</text>
<text x="398.64" y="908.20" font-size="27.4" fill="#000" textLength="85.71" lengthAdjust="spacingAndGlyphs">1-sept.</text>
<text x="591.70" y="908.20" font-size="27.4" fill="#000" textLength="71.41" lengthAdjust="spacingAndGlyphs">1-oct.</text>
<text x="780.37" y="908.20" font-size="27.4" fill="#000" textLength="78.38" lengthAdjust="spacingAndGlyphs">1-nov.</text>
<text x="966.99" y="908.20" font-size="27.4" fill="#000" textLength="76.05" lengthAdjust="spacingAndGlyphs">1-déc.</text>
<text x="1155.43" y="908.20" font-size="27.4" fill="#000" textLength="82.65" lengthAdjust="spacingAndGlyphs">1-janv.</text>
<text x="1348.38" y="908.20" font-size="27.4" fill="#000" textLength="79.98" lengthAdjust="spacingAndGlyphs">1-févr.</text>
<text x="782.67" y="934.00" font-size="24" fill="#1F6FA8" textLength="122.66" lengthAdjust="spacingAndGlyphs">les-crises.fr</text>
<text x="97.33" y="373.90" font-size="27.6" fill="#000" textLength="173.48" lengthAdjust="spacingAndGlyphs">Plus de 90 ans</text>
<text x="98.27" y="427.71" font-size="27.6" fill="#000" textLength="118.50" lengthAdjust="spacingAndGlyphs">80-89 ans</text>
<text x="98.11" y="481.52" font-size="27.6" fill="#000" textLength="118.66" lengthAdjust="spacingAndGlyphs">70-79 ans</text>
<text x="98.10" y="535.33" font-size="27.6" fill="#000" textLength="118.67" lengthAdjust="spacingAndGlyphs">60-69 ans</text>
<text x="98.14" y="589.14" font-size="27.6" fill="#000" textLength="118.63" lengthAdjust="spacingAndGlyphs">50-59 ans</text>
<text x="98.88" y="642.95" font-size="27.6" fill="#000" textLength="117.88" lengthAdjust="spacingAndGlyphs">40-49 ans</text>
<text x="98.25" y="696.76" font-size="27.6" fill="#000" textLength="118.52" lengthAdjust="spacingAndGlyphs">30-39 ans</text>
<text x="98.14" y="750.57" font-size="27.6" fill="#000" textLength="118.62" lengthAdjust="spacingAndGlyphs">20-29 ans</text>
<text x="98.65" y="804.38" font-size="27.6" fill="#000" textLength="118.11" lengthAdjust="spacingAndGlyphs">10-19 ans</text>
<text x="98.44" y="858.19" font-size="27.6" fill="#000" textLength="86.76" lengthAdjust="spacingAndGlyphs">0-9 ans</text>
<text x="780.82" y="343.80" font-size="31" fill="#F1DDD2" textLength="77.73" lengthAdjust="spacingAndGlyphs">60-69</text>
<text x="780.91" y="413.20" font-size="31" fill="#7F7F7F" textLength="77.64" lengthAdjust="spacingAndGlyphs">50-59</text>
<text x="781.70" y="494.90" font-size="31" fill="#7F7F7F" textLength="76.83" lengthAdjust="spacingAndGlyphs">40-49</text>
<text x="780.96" y="582.90" font-size="31" fill="#7F7F7F" textLength="77.58" lengthAdjust="spacingAndGlyphs">30-39</text>
<text x="780.86" y="677.90" font-size="31" fill="#7F7F7F" textLength="77.68" lengthAdjust="spacingAndGlyphs">20-29</text>
<text><tspan x="1566.29" y="209.00" font-size="33" font-weight="bold" fill="#7030A0" textLength="16.01" lengthAdjust="spacingAndGlyphs">≥</tspan> <tspan x="1591.23" y="208.90" font-size="27.6" font-weight="bold" fill="#7030A0" textLength="30.85" lengthAdjust="spacingAndGlyphs">60</tspan> <tspan x="1628.63" y="208.90" font-size="27.6" font-weight="bold" fill="#7030A0" textLength="42.70" lengthAdjust="spacingAndGlyphs">ans</tspan></text>
<text><tspan x="1566.85" y="597.20" font-size="26.5" font-weight="bold" fill="#7030A0" textLength="14.35" lengthAdjust="spacingAndGlyphs">&lt;</tspan> <tspan x="1589.15" y="596.70" font-size="27.6" font-weight="bold" fill="#7030A0" textLength="30.42" lengthAdjust="spacingAndGlyphs">60</tspan> <tspan x="1626.13" y="596.70" font-size="27.6" font-weight="bold" fill="#7030A0" textLength="42.70" lengthAdjust="spacingAndGlyphs">ans</tspan></text>
<text><tspan x="210.65" y="55.80" font-size="35.6" font-weight="bold" fill="#000" textLength="167.27" lengthAdjust="spacingAndGlyphs">Nouveaux</tspan> <tspan x="387.00" y="55.80" font-size="35.6" font-weight="bold" fill="#000" textLength="53.89" lengthAdjust="spacingAndGlyphs">cas</tspan> <tspan x="448.53" y="55.80" font-size="35.6" font-weight="bold" fill="#000" textLength="176.24" lengthAdjust="spacingAndGlyphs">quotidiens</tspan> <tspan x="635.78" y="55.80" font-size="35.6" font-weight="bold" fill="#000" textLength="96.11" lengthAdjust="spacingAndGlyphs">testés</tspan> <tspan x="741.08" y="55.80" font-size="35.6" font-weight="bold" fill="#000" textLength="122.97" lengthAdjust="spacingAndGlyphs">positifs</tspan> <tspan x="872.17" y="55.80" font-size="35.6" font-weight="bold" fill="#000" textLength="144.42" lengthAdjust="spacingAndGlyphs">Covid-19</tspan> <tspan x="1026.93" y="55.80" font-size="35.6" font-weight="bold" fill="#000" textLength="55.05" lengthAdjust="spacingAndGlyphs">par</tspan> <tspan x="1091.97" y="55.80" font-size="35.6" font-weight="bold" fill="#000" textLength="123.75" lengthAdjust="spacingAndGlyphs">tranche</tspan> <tspan x="1226.26" y="55.80" font-size="35.6" font-weight="bold" fill="#000" textLength="88.23" lengthAdjust="spacingAndGlyphs">d'âge</tspan> <tspan x="1324.43" y="55.80" font-size="35.6" font-weight="bold" fill="#000" textLength="42.26" lengthAdjust="spacingAndGlyphs">en</tspan> <tspan x="1376.19" y="55.80" font-size="35.6" font-weight="bold" fill="#000" textLength="107.88" lengthAdjust="spacingAndGlyphs">France</tspan></text>
<text><tspan x="544.64" y="94.50" font-size="27.8" fill="#000" textLength="40.25" lengthAdjust="spacingAndGlyphs">(en</tspan> <tspan x="591.11" y="94.50" font-size="27.8" fill="#000" textLength="68.65" lengthAdjust="spacingAndGlyphs">2020,</tspan> <tspan x="666.46" y="94.50" font-size="27.8" fill="#000" textLength="80.18" lengthAdjust="spacingAndGlyphs">lissage</tspan> <tspan x="753.46" y="94.50" font-size="27.8" fill="#000" textLength="188.39" lengthAdjust="spacingAndGlyphs">hebdomadaire)</tspan> <tspan x="948.13" y="94.50" font-size="27.8" fill="#000" textLength="106.93" lengthAdjust="spacingAndGlyphs">(Source :</tspan> <tspan x="1061.04" y="94.50" font-size="27.8" fill="#000" textLength="89.96" lengthAdjust="spacingAndGlyphs">SI-DEP)</tspan></text>
</svg>
</body></html>
